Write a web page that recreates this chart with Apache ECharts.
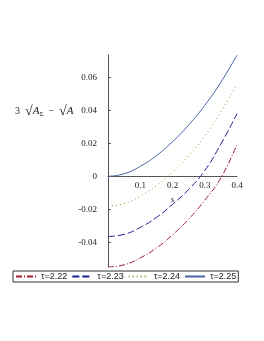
<!DOCTYPE html>
<html><head><meta charset="utf-8">
<script src="https://cdn.jsdelivr.net/npm/echarts@6/dist/echarts.min.js"></script>
<style>html,body{margin:0;padding:0;background:#fff}#c{width:264px;height:341px}</style>
</head><body><div id="c"></div>
<script>
var sValues = [0, 0.05, 0.1, 0.15, 0.2, 0.25, 0.3, 0.35, 0.4];
var tau222 = [-0.055, -0.0537, -0.0495, -0.0435, -0.0355, -0.026, -0.0145, -0.001, 0.0194];
var tau223 = [-0.0365, -0.0352, -0.031, -0.025, -0.017, -0.008, 0.0035, 0.0195, 0.038];
var tau224 = [-0.018, -0.0166, -0.012, -0.0057, 0.0025, 0.0125, 0.0245, 0.039, 0.0558];
var tau225 = [0, 0.0015, 0.006, 0.0125, 0.021, 0.031, 0.043, 0.057, 0.0735];
var seriesNames = ['τ=2.22', 'τ=2.23', 'τ=2.24', 'τ=2.25'];
var yMin = -0.055, yMax = 0.0735;

function pairs(ys){ return sValues.map(function(s,i){ return [s, ys[i]]; }); }

var gridTop = 55, gridBottom = 74, H = 341;
var gridH = H - gridTop - gridBottom;
var zeroOffset = -gridH * (0 - yMin) / (yMax - yMin);

var chart = echarts.init(document.getElementById('c'));
var serif = '"Liberation Serif", "DejaVu Serif", serif';
var mk = function(name, ys, color, type){
  return { name: name, type: 'line', data: pairs(ys), smooth: true, symbol: 'none', showSymbol: false,
    lineStyle: { color: color, width: 1, type: type }, itemStyle: { color: color } };
};
chart.setOption({
  animation: false,
  grid: { left: 108, right: 27, top: gridTop, bottom: gridBottom },
  xAxis: {
    type: 'value', min: 0, max: 0.4, interval: 0.1, position: 'bottom', offset: zeroOffset,
    axisLine: { onZero: false, lineStyle: { color: '#555', width: 1 } },
    axisTick: { show: false },
    splitLine: { show: false },
    axisLabel: { showMinLabel: false, margin: 5, color: '#222', fontFamily: serif, fontSize: 9 },
    name: 's', nameLocation: 'middle', nameGap: 12,
    nameTextStyle: { fontFamily: serif, fontStyle: 'italic', fontSize: 9, color: '#222' }
  },
  yAxis: {
    type: 'value', min: yMin, max: yMax, splitNumber: 6, minInterval: 0.02, maxInterval: 0.02,
    axisLine: { show: true, onZero: false, lineStyle: { color: '#555', width: 1 } },
    axisTick: { show: true, inside: true, length: 3, lineStyle: { color: '#555' } },
    splitLine: { show: false },
    axisLabel: { showMinLabel: false, showMaxLabel: false, margin: 11, color: '#222', fontFamily: serif, fontSize: 9,
      formatter: function(v){ return Math.abs(v) < 1e-9 ? '0' : String(+v.toFixed(2)); } }
  },
  legend: {
    data: seriesNames, left: 13, top: 271, orient: 'horizontal',
    itemWidth: 20, itemHeight: 9, itemGap: 4, padding: [1, 2, 1, 2],
    borderColor: '#333', borderWidth: 1, borderRadius: 0,
    itemStyle: { opacity: 0 },
    textStyle: { fontFamily: '"Liberation Sans", Arial, sans-serif', fontSize: 9, color: '#222' }
  },
  graphic: [{
    type: 'text', left: 15, top: 104,
    style: {
      text: '{n|3  }{r|√}{a|A}{s|Σ}{n|  −  }{r|√}{a|A}',
      rich: {
        n: { fontFamily: serif, fontSize: 10, fill: '#222' },
        r: { fontFamily: serif, fontSize: 14, fill: '#222' },
        a: { fontFamily: serif, fontSize: 11, fontStyle: 'italic', fill: '#222' },
        s: { fontFamily: serif, fontSize: 7, fill: '#222', padding: [7, 0, 0, 0] }
      }
    }
  }],
  series: [
    mk(seriesNames[0], tau222, '#9e1a2e', [6, 2, 1, 2]),
    mk(seriesNames[1], tau223, '#1a1f8f', [7, 3]),
    mk(seriesNames[2], tau224, '#7fa030', [1, 3]),
    mk(seriesNames[3], tau225, '#4a62a6', 'solid')
  ]
});
</script></body></html>
